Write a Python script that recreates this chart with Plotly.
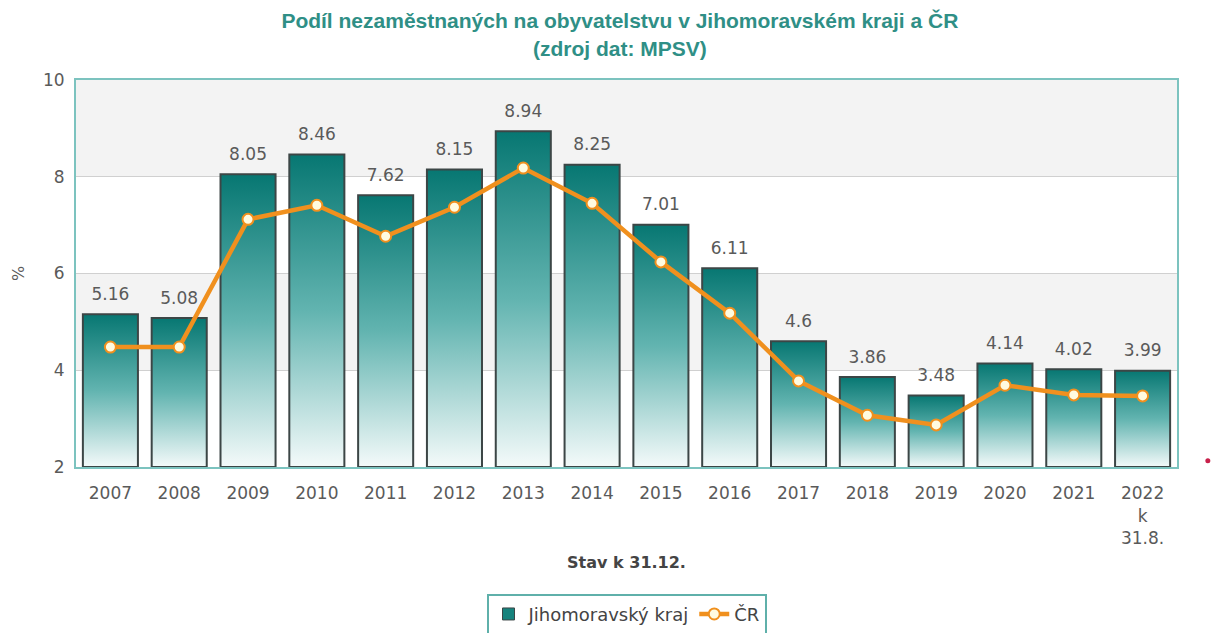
import plotly.graph_objects as go

years = ["2007", "2008", "2009", "2010", "2011", "2012", "2013", "2014", "2015",
         "2016", "2017", "2018", "2019", "2020", "2021", "2022<br>k<br>31.8."]
jmk = [5.16, 5.08, 8.05, 8.46, 7.62, 8.15, 8.94, 8.25, 7.01, 6.11, 4.6, 3.86, 3.48, 4.14, 4.02, 3.99]
cr = [4.48, 4.48, 7.12, 7.41, 6.77, 7.37, 8.18, 7.45, 6.24, 5.18, 3.78, 3.07, 2.87, 3.69, 3.49, 3.47]
jmk_labels = ["5.16", "5.08", "8.05", "8.46", "7.62", "8.15", "8.94", "8.25", "7.01",
              "6.11", "4.6", "3.86", "3.48", "4.14", "4.02", "3.99"]

Y0 = 2
BW = 0.8
LABEL_GAP = 0.15
idx = list(range(len(years)))
FONT = "DejaVu Sans"
TEAL = "#16837d"
OUTLINE = "#3c4646"

fig = go.Figure()

# legend entry for the bars
fig.add_trace(go.Bar(
    x=[None], y=[None], name="Jihomoravský kraj",
    marker=dict(color=TEAL, line=dict(color=OUTLINE, width=1)),
))

# invisible bars carrying the value labels
fig.add_trace(go.Bar(
    x=idx, y=[v - Y0 + LABEL_GAP for v in jmk], base=Y0, width=BW,
    marker=dict(color="rgba(0,0,0,0)", line=dict(width=0)),
    text=jmk_labels, textposition="outside", cliponaxis=False,
    textfont=dict(family=FONT, size=17, color="#5a5a5a"),
    showlegend=False, hoverinfo="skip",
))

# gradient bars
for i, v in zip(idx, jmk):
    fig.add_trace(go.Scatter(
        x=[i - BW / 2, i + BW / 2, i + BW / 2, i - BW / 2, i - BW / 2],
        y=[Y0, Y0, v, v, Y0],
        mode="lines", fill="toself",
        line=dict(color=OUTLINE, width=2),
        fillgradient=dict(type="vertical",
                          colorscale=[[0, "#f4fafa"], [0.5, "#62b4b0"], [1, "#077772"]]),
        showlegend=False, hoverinfo="skip",
    ))

fig.add_trace(go.Scatter(
    x=idx, y=cr, name="ČR", mode="lines+markers",
    line=dict(color="#f0901e", width=4.5),
    marker=dict(size=11, color="#fffbe0", line=dict(color="#f0901e", width=2)),
))

shapes = [
    dict(type="rect", xref="paper", yref="y", x0=0, x1=1, y0=8, y1=10,
         fillcolor="#f3f3f3", line_width=0, layer="below"),
    dict(type="rect", xref="paper", yref="y", x0=0, x1=1, y0=4, y1=6,
         fillcolor="#f3f3f3", line_width=0, layer="below"),
    dict(type="circle", xref="paper", yref="paper", xsizemode="pixel", ysizemode="pixel",
         xanchor=1.028, yanchor=0.016, x0=-2.5, x1=2.5, y0=-2.5, y1=2.5,
         fillcolor="#c8204a", line_width=0),
]

fig.update_layout(
    width=1213, height=633,
    margin=dict(l=76, r=36, t=80, b=166),
    paper_bgcolor="white", plot_bgcolor="white",
    barmode="overlay",
    title=dict(text="Podíl nezaměstnaných na obyvatelstvu v Jihomoravském kraji a ČR<br>(zdroj dat: MPSV)",
               x=0.511, xanchor="center", y=0.955, yanchor="top",
               font=dict(family="Liberation Sans", size=21, color="#2f8f86", weight="bold")),
    xaxis=dict(range=[-0.5, len(years) - 0.5], tickmode="array", tickvals=idx, ticktext=years,
               showgrid=False, showline=True, linecolor="#7cc3bf", linewidth=2, mirror=True,
               ticks="", ticklabelstandoff=10, automargin=False,
               tickfont=dict(family=FONT, size=17, color="#5a5a5a"),
               title=dict(text="<b>Stav k 31.12.</b>", standoff=10,
                          font=dict(family=FONT, size=16, color="#444444")),
               zeroline=False),
    yaxis=dict(range=[2, 10], tickvals=[2, 4, 6, 8, 10], showgrid=True, gridcolor="#d0d0d0",
               gridwidth=1, showline=True, linecolor="#7cc3bf", linewidth=2, mirror=True,
               ticks="", ticklabelstandoff=6, automargin=False,
               tickfont=dict(family=FONT, size=17, color="#5a5a5a"),
               title=dict(text="%", standoff=14,
                          font=dict(family=FONT, size=16, color="#5a5a5a")),
               zeroline=False),
    legend=dict(orientation="h", x=0.5, xanchor="center", yref="container", y=0.062, yanchor="top",
                bordercolor="#5fb0aa", borderwidth=2, bgcolor="white",
                font=dict(family=FONT, size=18, color="#444444")),
    shapes=shapes,
    showlegend=True,
)

fig.write_html("out.html", post_script="document.body.style.margin='0';",
               config={"displayModeBar": False})
